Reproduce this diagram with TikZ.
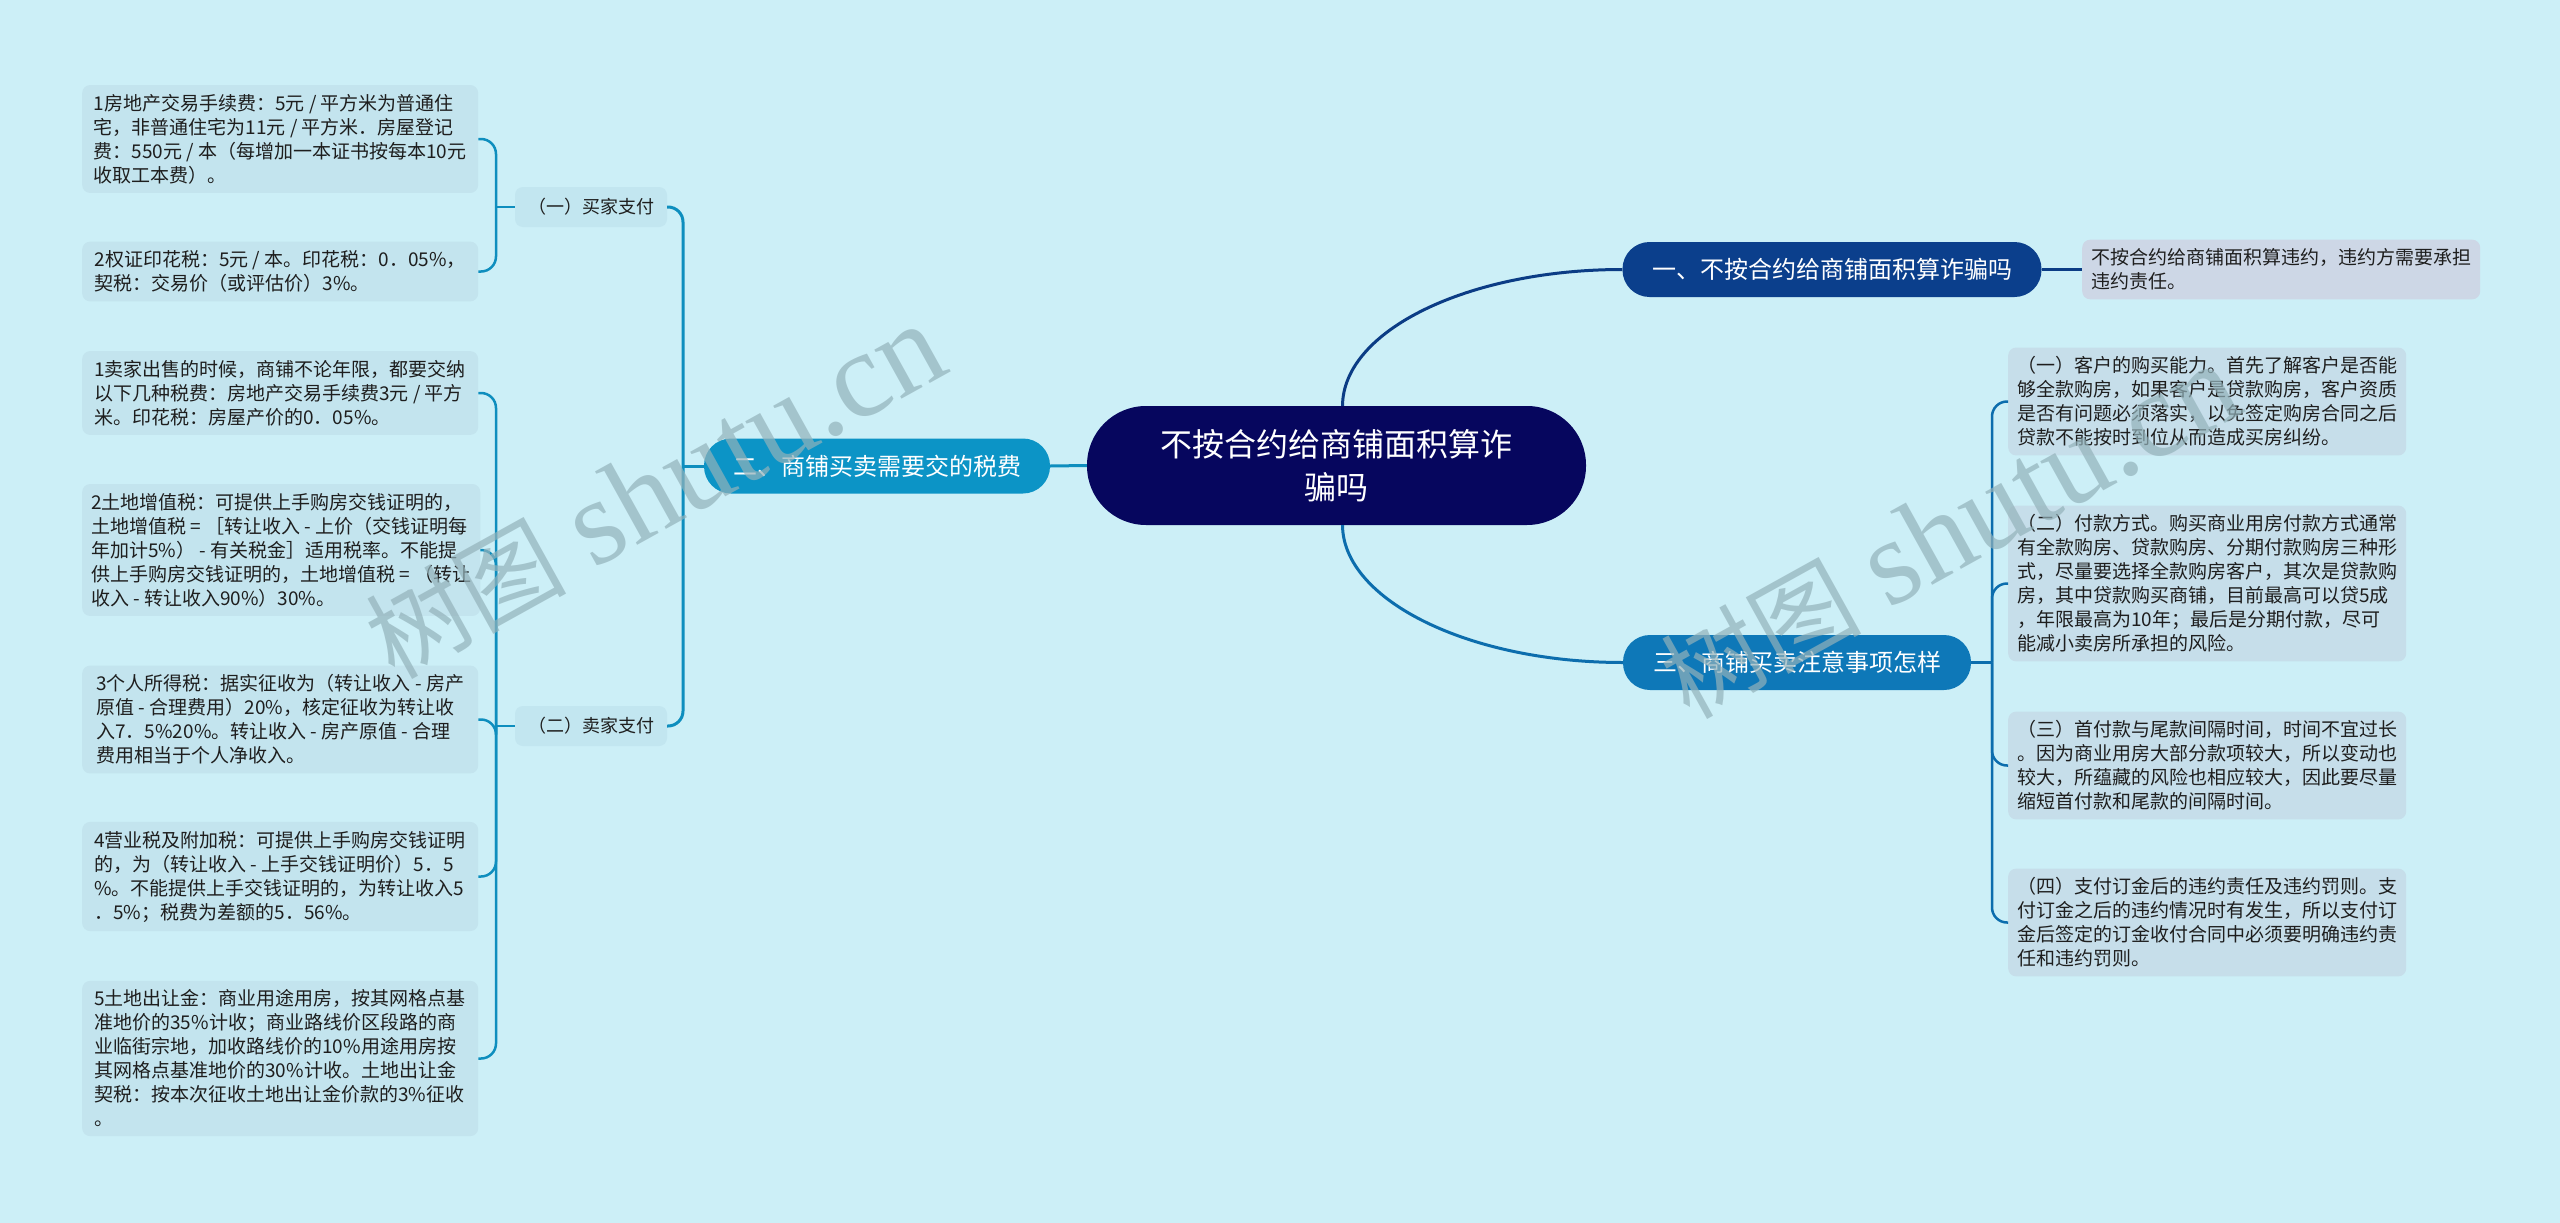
\documentclass[tikz,border=0pt]{standalone}
\usepackage{fontspec}
\setmainfont{Noto Sans CJK SC}
\newfontfamily\wmlat{Liberation Serif}
\usetikzlibrary{calc}
\definecolor{bgc}{HTML}{CCEFF7}
\definecolor{cenc}{HTML}{06065E}
\definecolor{b1c}{HTML}{0B3F8C}
\definecolor{b2c}{HTML}{0C94C6}
\definecolor{b3c}{HTML}{0E78B8}
\definecolor{l1c}{HTML}{0B3C85}
\definecolor{l2c}{HTML}{0E8EBE}
\definecolor{l3c}{HTML}{0C6DAD}
\definecolor{leafL}{HTML}{C3E4EE}
\definecolor{leafR}{HTML}{C6DEEA}
\definecolor{leafA}{HTML}{CDD7E6}
\definecolor{subc}{HTML}{C2E6F0}
\definecolor{txtc}{HTML}{1E1E1E}
\definecolor{wmc}{HTML}{93B2BA}
\begin{document}
\begin{tikzpicture}[x=1pt,y=-1pt,
  leaf/.style={rounded corners=8pt, align=left, inner xsep=9pt, inner ysep=9pt,
    minimum width=396pt, font=\fontsize{19}{24}\selectfont, text=txtc, anchor=west},
  leafl/.style={leaf, fill=leafL},
  leafr/.style={leaf, fill=leafR},
  branch/.style={rounded corners=27pt, minimum height=55pt, inner xsep=0pt,
    font=\fontsize{24}{28}\selectfont, text=white},
  subn/.style={fill=subc, rounded corners=8pt, minimum width=152pt, minimum height=40pt,
    inner xsep=0pt, font=\fontsize{18}{22}\selectfont, text=txtc},
  l1/.style={draw=l1c, line width=3pt},
  l2/.style={draw=l2c, line width=3pt},
  l3/.style={draw=l3c, line width=3pt},
  lk/.style={line width=2.5pt},
  wm/.style={text=wmc, text opacity=0.7, inner sep=0pt}
]
\useasboundingbox (0,0) rectangle (2560,1223);
\fill[bgc] (0,0) rectangle (2560,1223);

% central
\node[fill=cenc, rounded corners=59pt, minimum width=499pt, minimum height=119pt,
  align=center, text=white, font=\fontsize{32}{43}\selectfont] (c) at (1336.5,465.5)
  {不按合约给商铺面积算诈\\骗吗};

% branches
\node[branch, fill=b1c, minimum width=419pt] (b1) at (1832,269.5) {一、不按合约给商铺面积算诈骗吗};
\node[branch, fill=b2c, minimum width=346pt] (b2) at (877,466) {二、商铺买卖需要交的税费};
\node[branch, fill=b3c, minimum width=348pt] (b3) at (1797,662.5) {三、商铺买卖注意事项怎样};

% branch 1 leaf
\node[leaf, fill=leafA] (a1) at (2082,269.5) {不按合约给商铺面积算违约，违约方需要承担\\违约责任。};

% sub nodes
\node[subn] (s1) at (591,207) {（一）买家支付};
\node[subn] (s2) at (591,726) {（二）卖家支付};

% left leaves
\node[leafl] (L1) at (82,139) {1房地产交易手续费：5元 / 平方米为普通住\\宅，非普通住宅为11元 / 平方米．房屋登记\\费：550元 / 本（每增加一本证书按每本10元\\收取工本费）。};
\node[leafl] (L2) at (82,271.5) {2权证印花税：5元 / 本。印花税：0．05\%，\\契税：交易价（或评估价）3\%。};
\node[leafl] (L3) at (82,393) {1卖家出售的时候，商铺不论年限，都要交纳\\以下几种税费：房地产交易手续费3元 / 平方\\米。印花税：房屋产价的0．05\%。};
\node[leafl] (L4) at (82,550) {2土地增值税：可提供上手购房交钱证明的，\\土地增值税 = ［转让收入 - 上价（交钱证明每\\年加计5\%） - 有关税金］适用税率。不能提\\供上手购房交钱证明的，土地增值税 = （转让\\收入 - 转让收入90\%）30\%。};
\node[leafl] (L5) at (82,719.5) {3个人所得税：据实征收为（转让收入 - 房产\\原值 - 合理费用）20\%，核定征收为转让收\\入7．5\%20\%。转让收入 - 房产原值 - 合理\\费用相当于个人净收入。};
\node[leafl] (L6) at (82,876.5) {4营业税及附加税：可提供上手购房交钱证明\\的，为（转让收入 - 上手交钱证明价）5．5\\\%。不能提供上手交钱证明的，为转让收入5\\．5\%；税费为差额的5．56\%。};
\node[leafl] (L7) at (82,1058.5) {5土地出让金：商业用途用房，按其网格点基\\准地价的35\%计收；商业路线价区段路的商\\业临街宗地，加收路线价的10\%用途用房按\\其网格点基准地价的30\%计收。土地出让金\\契税：按本次征收土地出让金价款的3\%征收\\。};

% right leaves
\node[leafr] (R1) at (2008,401.5) {（一）客户的购买能力。首先了解客户是否能\\够全款购房，如果客户是贷款购房，客户资质\\是否有问题必须落实，以免签定购房合同之后\\贷款不能按时到位从而造成买房纠纷。};
\node[leafr] (R2) at (2008,583.5) {（二）付款方式。购买商业用房付款方式通常\\有全款购房、贷款购房、分期付款购房三种形\\式，尽量要选择全款购房客户，其次是贷款购\\房，其中贷款购买商铺，目前最高可以贷5成\\，年限最高为10年；最后是分期付款，尽可\\能减小卖房所承担的风险。};
\node[leafr] (R3) at (2008,765.5) {（三）首付款与尾款间隔时间，时间不宜过长\\。因为商业用房大部分款项较大，所以变动也\\较大，所蕴藏的风险也相应较大，因此要尽量\\缩短首付款和尾款的间隔时间。};
\node[leafr] (R4) at (2008,922.5) {（四）支付订金后的违约责任及违约罚则。支\\付订金之后的违约情况时有发生，所以支付订\\金后签定的订金收付合同中必须要明确违约责\\任和违约罚则。};

% connectors: central to branches
\draw[l2] (c.west) -- (b2.east);
\draw[l1] ([xshift=6pt]c.north) .. controls (1343,330) and (1469,269.5) .. (b1.west);
\draw[l3] ([xshift=6pt]c.south) .. controls (1343,600) and (1469,662.5) .. (b3.west);
\draw[l1] (b1.east) -- (a1.west);

% branch 2 bracket
\coordinate (j2) at (683,466);
\draw[l2] (b2.west) -- (j2);
\draw[l2, rounded corners=15pt] (j2) |- (s1.east);
\draw[l2, rounded corners=15pt] (j2) |- (s2.east);

% sub brackets
\coordinate (js1) at (496,207);
\draw[l2, lk] (s1.west) -- (js1);
\foreach \n in {L1,L2} \draw[l2, lk, rounded corners=15pt] (js1) |- (\n.east);
\coordinate (js2) at (496,726);
\draw[l2, lk] (s2.west) -- (js2);
\foreach \n in {L3,L4,L5,L6,L7} \draw[l2, lk, rounded corners=15pt] (js2) |- (\n.east);

% branch 3 bracket
\coordinate (j3) at (1992,662.5);
\draw[l3] (b3.east) -- (j3);
\foreach \n in {R1,R2,R3,R4} \draw[l3, lk, rounded corners=15pt] (j3) |- (\n.west);

% watermarks
\node[wm, rotate=29] (w1) at (655,492) {{\fontsize{100}{100}\selectfont 树图}\hspace{28pt}{\wmlat\fontsize{122}{122}\selectfont shutu.cn}};
\node[wm, rotate=29] (w2) at (1950,532) {{\fontsize{100}{100}\selectfont 树图}\hspace{28pt}{\wmlat\fontsize{122}{122}\selectfont shutu.cn}};
\end{tikzpicture}
\end{document}
